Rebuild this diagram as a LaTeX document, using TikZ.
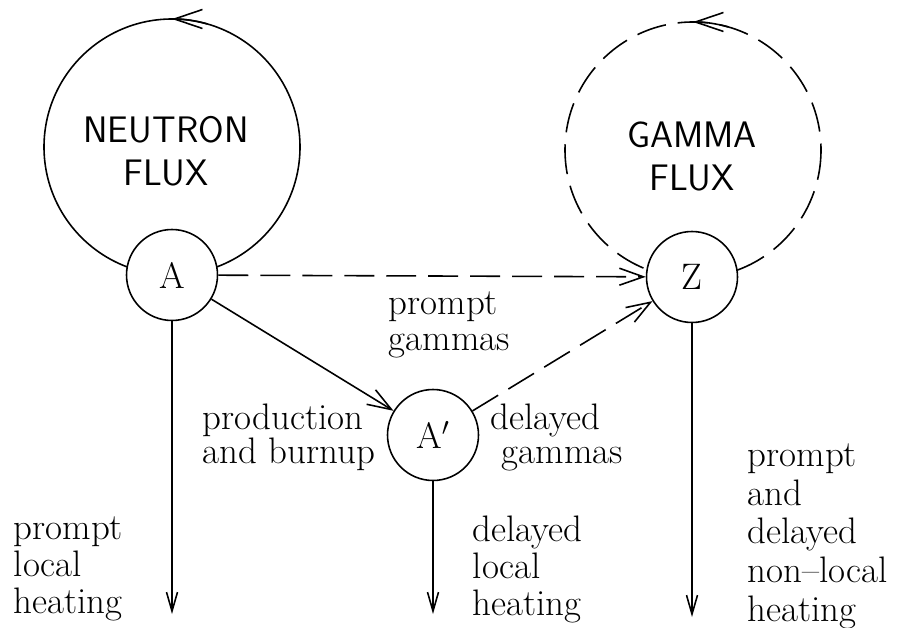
\documentclass[tikz,border=0pt]{standalone}
\usetikzlibrary{arrows.meta}
\begin{document}
\begin{tikzpicture}[x=0.02cm, y=-0.02cm, line width=0.9pt,
  nuc/.style={draw, circle, fill=white, minimum size=1.82cm, inner sep=0pt,
    font=\fontsize{21}{22}\selectfont},
  lbl/.style={align=left, inner sep=0pt, anchor=base west,
    font=\fontsize{21}{21}\selectfont},
  flux/.style={align=center, inner sep=0pt, anchor=base,
    font=\sffamily\fontsize{21}{25}\selectfont},
  loop/.style={-{Straight Barb[length=0.56cm, width=0.38cm]}},
  into/.style={-{Straight Barb[length=0.48cm, width=0.34cm]}},
  down/.style={-{Straight Barb[length=0.38cm, width=0.22cm]}},
  gdash/.style={dash pattern=on 0.6cm off 0.24cm}]
%
\useasboundingbox (0,0) rectangle (906,628);
%
\coordinate (nc) at (172,147);
\coordinate (gc) at (693,150);
\draw (nc) circle[radius=128];
\draw[gdash] (gc) circle[radius=128];
\draw[loop] (nc) ++(-74:128) arc[start angle=-74, end angle=-90, radius=128];
\draw[loop, gdash] (gc) ++(-74:128) arc[start angle=-74, end angle=-90, radius=128];
%
\node[flux] (nlab) at (166,186) {NEUTRON\\FLUX};
\node[flux] (glab) at (692,191) {GAMMA\\FLUX};
%
\node[nuc] (A) at (172,275) {A};
\node[nuc] (Ap) at (433,435) {A$'$};
\node[nuc] (Z) at (692,277) {Z};
%
\draw[into] (A) -- (Ap);
\draw[into, gdash] (A) -- (Z);
\draw[into, gdash] (Ap) -- (Z);
%
\coordinate (Aout) at (172,614);
\coordinate (Apout) at (433,614);
\coordinate (Zout) at (692,617);
\draw[down] (A) -- (Aout);
\draw[down] (Ap) -- (Apout);
\draw[down] (Z) -- (Zout);
%
\node[lbl, font=\fontsize{21}{20}\selectfont] (pg) at (388,350) {prompt\\gammas};
\node[lbl, font=\fontsize{21}{19}\selectfont] (pb) at (202,463) {production\\and burnup};
\node[lbl, font=\fontsize{21}{19}\selectfont] (dg) at (490,463) {delayed\\\hspace{7\pgflinewidth}gammas};
\node[lbl] (plh) at (13,613) {prompt\\local\\heating};
\node[lbl] (dlh) at (472,615) {delayed\\local\\heating};
\node[lbl, font=\fontsize{21}{22}\selectfont] (pdn) at (747,621) {prompt\\and\\delayed\\non--local\\heating};
%
\end{tikzpicture}
\end{document}
